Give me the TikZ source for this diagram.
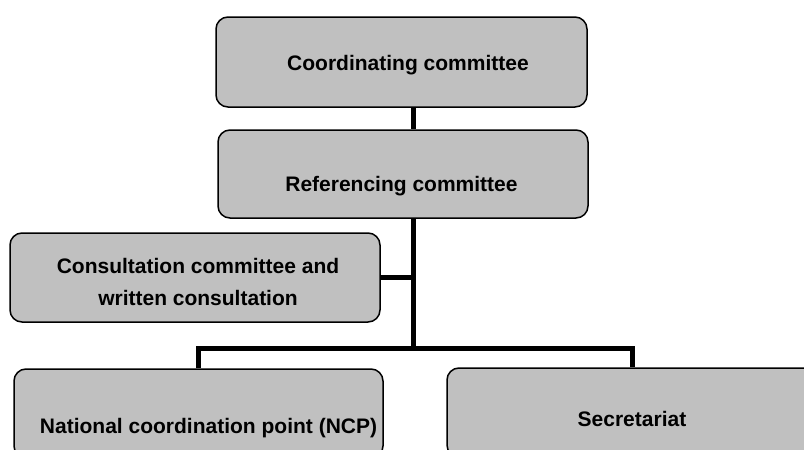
\documentclass[tikz,border=0pt]{standalone}
\usepackage{fontspec}
\setmainfont{Liberation Sans}
\definecolor{boxgray}{HTML}{C0C0C0}
\newcommand{\shiftbox}[3]{\raisebox{-#2}[\height][\depth]{\kern#1\relax #3\kern-#1\relax}}
\begin{document}
\begin{tikzpicture}[x=1pt,y=-1pt,
  orgbox/.style={draw, line width=1.5pt, fill=boxgray, rounded corners=12pt,
    minimum width=370pt, minimum height=89pt, inner sep=0pt,
    font=\fontsize{21}{32}\selectfont\bfseries},
  conn/.style={line width=5pt}]
\useasboundingbox (0,0) rectangle (804,450);
\clip (0,0) rectangle (804,450);
\node[orgbox, minimum width=371pt, minimum height=90pt] (coord) at (401.5,62) {\shiftbox{6.5pt}{3pt}{Coordinating committee}};
\node[orgbox, minimum height=88pt] (ref) at (403,174) {\shiftbox{-1.5pt}{12pt}{Referencing committee}};
\node[orgbox] (consult) at (195,277.5) {\shiftbox{3pt}{6pt}{\begin{tabular}{@{}c@{}}Consultation committee and\\written consultation\end{tabular}}};
\node[orgbox, minimum width=369pt] (ncp) at (198.5,413.5) {\shiftbox{10pt}{15pt}{National coordination point (NCP)}};
\node[orgbox] (sec) at (632,412.5) {\shiftbox{0pt}{6.5pt}{Secretariat}};
\coordinate (trunk) at (413,348);
\draw[conn] (coord.south -| trunk) -- (ref.north -| trunk);
\draw[conn] (ref.south -| trunk) -- (trunk);
\draw[conn] (consult.east) -- (consult.east -| trunk);
\draw[conn] (ncp.north) -- (ncp.north |- trunk) -- (sec.north |- trunk) -- (sec.north);
\end{tikzpicture}
\end{document}
